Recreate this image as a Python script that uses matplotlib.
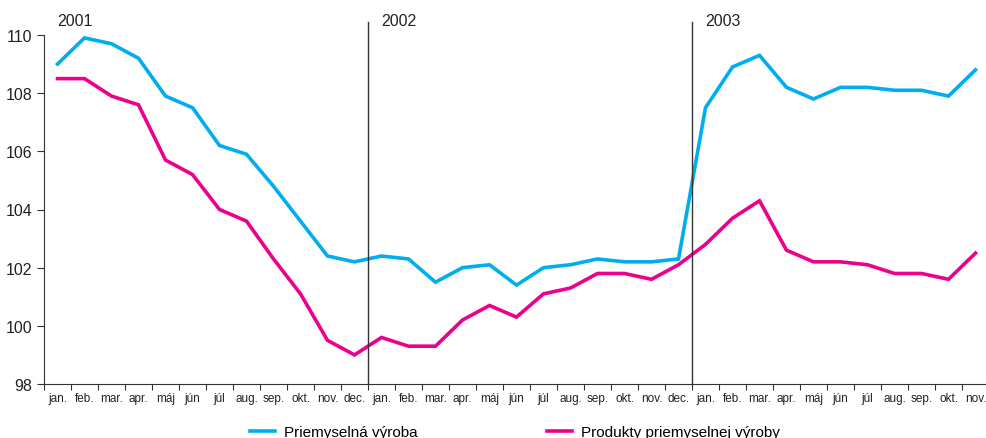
import numpy as np
import matplotlib
matplotlib.use("Agg")
import matplotlib.pyplot as plt
from matplotlib.ticker import FixedLocator, NullFormatter, FixedFormatter

plt.rcParams['font.family'] = ['Liberation Sans', 'DejaVu Sans']

months = ["jan.", "feb.", "mar.", "apr.", "máj", "jún", "júl",
          "aug.", "sep.", "okt.", "nov.", "dec."]
years = ["2001", "2002", "2003"]

# Priemyselná výroba, jan 2001 - nov 2003
vyroba = [109.0, 109.9, 109.7, 109.2, 107.9, 107.5, 106.2, 105.9, 104.8, 103.6, 102.4, 102.2,
          102.4, 102.3, 101.5, 102.0, 102.1, 101.4, 102.0, 102.1, 102.3, 102.2, 102.2, 102.3,
          107.5, 108.9, 109.3, 108.2, 107.8, 108.2, 108.2, 108.1, 108.1, 107.9, 108.8]
# Produkty priemyselnej výroby
produkty = [108.5, 108.5, 107.9, 107.6, 105.7, 105.2, 104.0, 103.6, 102.3, 101.1, 99.5, 99.0,
            99.6, 99.3, 99.3, 100.2, 100.7, 100.3, 101.1, 101.3, 101.8, 101.8, 101.6, 102.1,
            102.8, 103.7, 104.3, 102.6, 102.2, 102.2, 102.1, 101.8, 101.8, 101.6, 102.5]

n = len(vyroba)
x = np.arange(n) + 0.5
labels = (months * 3)[:n]

blue = "#00aeef"
pink = "#ec008c"

fig = plt.figure(figsize=(9.86, 4.39), dpi=100)
W, H = 986, 439
ax = fig.add_axes([44 / W, (H - 385) / H, 35 * 27 / W, 349 / H])

ax.plot(x, vyroba, color=blue, lw=2.6, label="Priemyselná výroba", solid_joinstyle="miter")
ax.plot(x, produkty, color=pink, lw=2.6, label="Produkty priemyselnej výroby", solid_joinstyle="miter")

ax.set_xlim(0, 35)
ax.set_ylim(98, 110)
ax.set_yticks(np.arange(98, 111, 2))

ax.xaxis.set_major_locator(FixedLocator(np.arange(0, 36)))
ax.xaxis.set_major_formatter(NullFormatter())
ax.xaxis.set_minor_locator(FixedLocator(x))
ax.xaxis.set_minor_formatter(FixedFormatter(labels))
ax.tick_params(axis="x", which="major", length=4, width=0.8, color="#333333")
ax.tick_params(axis="x", which="minor", length=0, labelsize=8.5, pad=6, labelcolor="#222222")
ax.tick_params(axis="y", length=5, width=0.8, color="#333333", labelsize=11.5, labelcolor="#222222")

for s in ["top", "right"]:
    ax.spines[s].set_visible(False)
for s in ["left", "bottom"]:
    ax.spines[s].set_color("#333333")
    ax.spines[s].set_linewidth(0.8)

# year dividers and labels
for i, yr in enumerate(years):
    b = i * 12
    if b > 0:
        ax.plot([b, b], [98, 110.45], color="#333333", lw=1.0, clip_on=False)
    ax.text(b + 0.5, 110.25, yr, fontsize=11.5, color="#222222", va="bottom", ha="left")

fig.legend(loc="center", bbox_to_anchor=(515 / W, 6 / H), ncol=2, frameon=False,
           fontsize=11, handlelength=1.6, handletextpad=0.6, columnspacing=8.5,
           borderaxespad=0)

fig.savefig("out.png", dpi=100)
